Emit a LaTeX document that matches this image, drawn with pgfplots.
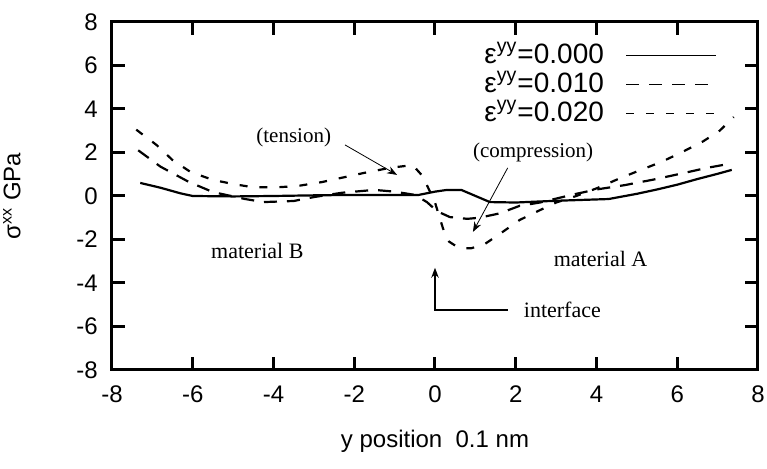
\documentclass[border=0pt]{standalone}
\usepackage{fontspec}
\setmainfont{Liberation Sans}
\newfontfamily\serif{Liberation Serif}
\usepackage{pgfplots}
\pgfplotsset{compat=1.18}
\usetikzlibrary{arrows.meta}

\begin{document}
\begin{tikzpicture}
\begin{axis}[
    scale only axis,
    width=323pt, height=174pt,
    xmin=-8, xmax=8, ymin=-8, ymax=8,
    xtick={-8,-6,...,8}, ytick={-8,-6,...,8},
    line width=1.5pt,
    tick align=inside,
    major tick length=6.5pt,
    every tick/.style={black, line width=1.5pt},
    /pgf/number format/assume math mode=true,
    tick label style={font=\fontsize{12}{12}\selectfont},
    xticklabel style={yshift=-4pt},
    yticklabel style={xshift=-3pt},
    xlabel={y position\ \ 0.1 nm},
    ylabel={σ\textsuperscript{xx} GPa},
    label style={font=\fontsize{12}{12}\selectfont},
    x label style={at={(axis description cs:0.5,-0.205)}, anchor=center},
    y label style={at={(axis description cs:-0.155,0.5)}, anchor=center},
    clip=false,
    legend plot pos=right,
    legend cell align=right,
    legend style={at={(rel axis cs:0.948,0.955)}, anchor=north east,
        draw=none, fill=none, font=\fontsize{14}{14}\selectfont,
        nodes={inner sep=0pt, text height=10pt, text depth=2pt},
        row sep=2.5pt, column sep=11pt},
    legend image code/.code={\draw[#1, line width=0.5pt] (0pt,0pt) -- (45pt,0pt);},
]

\addplot[black, line width=1.1pt] coordinates {
(-7.3,0.6) (-6.8,0.38) (-6.3,0.12) (-6.0,0.0) (-5.0,-0.02) (-4.0,0.0)
(-3.0,0.03) (-2.0,0.05) (-1.0,0.05) (-0.4,0.05) (0.0,0.2) (0.3,0.28)
(0.65,0.28) (1.36,-0.28) (2.0,-0.3) (3.0,-0.22) (4.3,-0.14) (5.0,0.1)
(5.5,0.3) (6.0,0.52) (6.5,0.78) (7.0,1.02) (7.35,1.2)
};
\addlegendentry{ε\textsuperscript{yy}=0.000}

\addplot[black, line width=1.1pt, dash pattern=on 6.5pt off 5pt] coordinates {
(-7.35,2.1) (-6.8,1.35) (-6.1,0.65) (-5.5,0.18) (-4.7,-0.14) (-4.25,-0.28)
(-3.5,-0.23) (-3.0,-0.05) (-2.3,0.15) (-1.5,0.28) (-1.0,0.2) (-0.5,0.05)
(-0.2,-0.28) (0.05,-0.7) (0.37,-0.97) (0.8,-1.05) (1.1,-1.0) (1.6,-0.8)
(2.1,-0.45) (2.6,-0.3) (3.0,-0.12) (3.5,0.1) (4.0,0.3) (4.7,0.5)
(5.4,0.75) (6.15,1.05) (6.7,1.28) (7.35,1.5)
};
\addlegendentry{ε\textsuperscript{yy}=0.010}

\addplot[black, line width=1.1pt, dash pattern=on 4pt off 6pt] coordinates {
(-7.4,3.05) (-6.9,2.35) (-6.5,1.65) (-6.05,1.1) (-5.5,0.74) (-5.0,0.55)
(-4.5,0.4) (-3.9,0.4) (-3.4,0.46) (-2.8,0.64) (-2.33,0.83) (-1.76,1.06)
(-1.1,1.3) (-0.55,1.42) (-0.3,0.9) (0.0,-0.3) (0.2,-1.5) (0.35,-2.1)
(0.6,-2.4) (0.9,-2.4) (1.2,-2.25) (1.6,-1.75) (2.1,-1.1) (2.6,-0.65)
(3.0,-0.3) (3.5,0.0) (4.0,0.35) (4.6,0.83) (5.1,1.2) (5.6,1.56)
(6.1,2.0) (6.63,2.5) (7.05,3.0) (7.4,3.63)
};
\addlegendentry{ε\textsuperscript{yy}=0.020}

% annotations
\node[font=\serif\fontsize{10.5}{10.5}\selectfont] at (axis cs:-3.5,2.7) {(tension)};
\draw[-{Stealth[length=5pt]}, line width=0.4pt] (axis cs:-2.23,2.35) -- (axis cs:-0.94,0.97);
\node[font=\serif\fontsize{10.5}{10.5}\selectfont] at (axis cs:2.43,2.0) {(compression)};
\draw[-{Stealth[length=5pt]}, line width=0.4pt] (axis cs:1.8,1.29) -- (axis cs:0.94,-1.65);
\node[font=\serif\fontsize{11}{11}\selectfont] at (axis cs:-4.4,-2.55) {material B};
\node[font=\serif\fontsize{11}{11}\selectfont] at (axis cs:4.1,-2.9) {material A};
\draw[-{Stealth[length=5pt]}, line width=0.6pt] (axis cs:1.8,-5.24) -- (axis cs:0,-5.24) -- (axis cs:0,-3.3);
\node[font=\serif\fontsize{11}{11}\selectfont, anchor=west] at (axis cs:2.0,-5.24) {interface};
\end{axis}
\pgfresetboundingbox
\path[use as bounding box] (-56pt,-49.5pt) rectangle (327.5pt,185pt);
\end{tikzpicture}
\end{document}
